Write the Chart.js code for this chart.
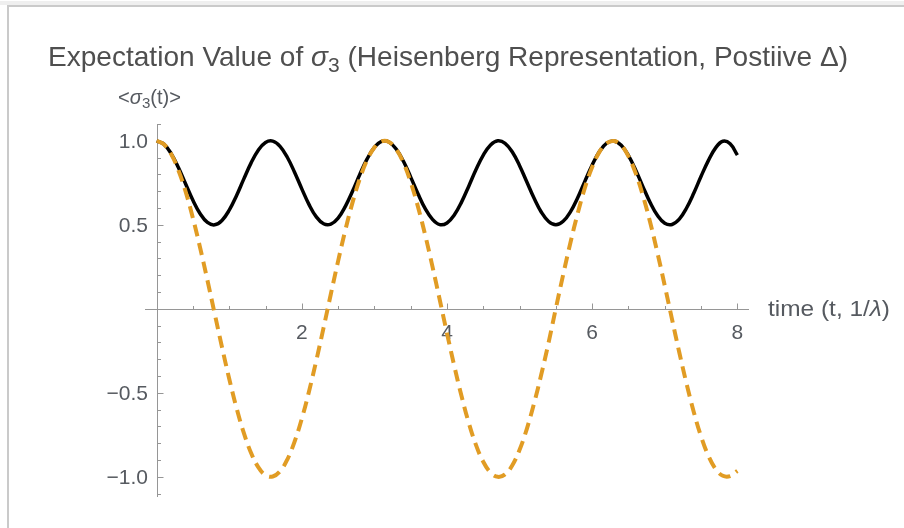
<!DOCTYPE html>
<html>
<head>
<meta charset="utf-8">
<script src="https://cdn.jsdelivr.net/npm/chart.js@4.4.0/dist/chart.umd.min.js"></script>
<style>
  html, body { margin: 0; padding: 0; background: #ffffff; }
  #wrap { position: relative; width: 904px; height: 528px; }
  canvas { display: block; }
</style>
</head>
<body>
<div id="wrap"><canvas id="chart" width="904" height="528"></canvas></div>
<script>
// time samples t (units of 1/λ)
const timeValues = [
  0.0, 0.1, 0.2, 0.3, 0.4, 0.5, 0.6, 0.7, 0.8, 0.9,
  1.0, 1.1, 1.2, 1.3, 1.4, 1.5, 1.6, 1.7, 1.8, 1.9,
  2.0, 2.1, 2.2, 2.3, 2.4, 2.5, 2.6, 2.7, 2.8, 2.9,
  3.0, 3.1, 3.2, 3.3, 3.4, 3.5, 3.6, 3.7, 3.8, 3.9,
  4.0, 4.1, 4.2, 4.3, 4.4, 4.5, 4.6, 4.7, 4.8, 4.9,
  5.0, 5.1, 5.2, 5.3, 5.4, 5.5, 5.6, 5.7, 5.8, 5.9,
  6.0, 6.1, 6.2, 6.3, 6.4, 6.5, 6.6, 6.7, 6.8, 6.9,
  7.0, 7.1, 7.2, 7.3, 7.4, 7.5, 7.6, 7.7, 7.8, 7.9,
  8.0
];

// <σ3(t)>, dashed orange curve (full swing between +1 and −1)
const sigma3Dashed = [
  1.000, 0.980, 0.921, 0.825, 0.697, 0.540, 0.362, 0.170, -0.029, -0.227,
  -0.416, -0.589, -0.737, -0.857, -0.942, -0.990, -0.998, -0.967, -0.897, -0.791,
  -0.654, -0.490, -0.307, -0.112, 0.088, 0.284, 0.469, 0.635, 0.776, 0.886,
  0.960, 0.997, 0.993, 0.950, 0.869, 0.754, 0.608, 0.439, 0.251, 0.054,
  -0.146, -0.339, -0.519, -0.679, -0.811, -0.911, -0.975, -1.000, -0.985, -0.931,
  -0.839, -0.714, -0.562, -0.388, -0.200, 0.004, 0.203, 0.393, 0.568, 0.721,
  0.844, 0.934, 0.986, 0.999, 0.973, 0.907, 0.806, 0.672, 0.512, 0.331,
  0.137, -0.063, -0.260, -0.446, -0.615, -0.760, -0.874, -0.953, -0.994, -0.996,
  -0.965
];

// <σ3(t)>, solid black curve (oscillates between 1 and 0.5)
const sigma3Solid = [
  1.000, 0.980, 0.924, 0.841, 0.743, 0.646, 0.566, 0.514, 0.500, 0.526,
  0.587, 0.673, 0.772, 0.867, 0.944, 0.990, 0.998, 0.967, 0.902, 0.813,
  0.714, 0.620, 0.547, 0.506, 0.504, 0.540, 0.610, 0.701, 0.801, 0.892,
  0.961, 0.997, 0.993, 0.951, 0.878, 0.784, 0.685, 0.596, 0.532, 0.501,
  0.511, 0.558, 0.635, 0.730, 0.829, 0.915, 0.975, 1.000, 0.985, 0.933,
  0.852, 0.755, 0.658, 0.575, 0.520, 0.500, 0.521, 0.577, 0.661, 0.760,
  0.856, 0.936, 0.986, 0.999, 0.973, 0.912, 0.825, 0.726, 0.631, 0.555,
  0.509, 0.502, 0.534, 0.600, 0.689, 0.789, 0.882, 0.958, 0.997, 0.982,
  0.915
];

// axis ticks
const xMajorTicks = [2, 4, 6, 8];
const xTickLabels = ['2', '4', '6', '8'];
const xMinorTicks = [0.5, 1, 1.5, 2.5, 3, 3.5, 4.5, 5, 5.5, 6.5, 7, 7.5];
const yMajorTicks = [1, 0.5, -0.5, -1];
const yTickLabels = ['1.0', '0.5', '\u22120.5', '\u22121.0'];
const yMinorTicks = [1.1, 0.9, 0.8, 0.7, 0.6, 0.4, 0.3, 0.2, 0.1,
                     -0.1, -0.2, -0.3, -0.4, -0.6, -0.7, -0.8, -0.9, -1.1];

const FAMILY = '"Liberation Sans", Arial, Helvetica, sans-serif';
const AXIS_COLOR = '#969696';
const LABEL_COLOR = '#565a60';

function partFont(p, size) {
  const s = p.sub ? Math.round(size * 0.74) : size;
  return (p.italic ? 'italic ' : '') + s + 'px ' + FAMILY;
}

// draws a run of text pieces (plain / italic / subscript), optionally fitted to a width
function drawRich(ctx, parts, x, baseline, size, color, targetWidth) {
  let natural = 0;
  for (const p of parts) {
    ctx.font = partFont(p, size);
    natural += ctx.measureText(p.text).width;
  }
  const sx = targetWidth ? targetWidth / natural : 1;
  ctx.save();
  ctx.translate(x, baseline);
  ctx.scale(sx, 1);
  ctx.fillStyle = color;
  ctx.textAlign = 'left';
  ctx.textBaseline = 'alphabetic';
  let cx = 0;
  for (const p of parts) {
    ctx.font = partFont(p, size);
    ctx.fillText(p.text, cx, p.sub ? size * 0.2 : 0);
    cx += ctx.measureText(p.text).width;
  }
  ctx.restore();
}

const pageFrame = {
  id: 'pageFrame',
  beforeDraw(chart) {
    const ctx = chart.ctx;
    ctx.save();
    ctx.fillStyle = '#ffffff';
    ctx.fillRect(0, 0, chart.width, chart.height);
    ctx.fillStyle = '#efefef';
    ctx.fillRect(0, 1, chart.width, 4);
    ctx.fillStyle = '#cacaca';
    ctx.fillRect(7, 5, chart.width - 7, 2);
    ctx.fillRect(7, 5, 2, chart.height - 5);
    ctx.restore();
  }
};

// axes crossing at the origin, with inward ticks
const originAxes = {
  id: 'originAxes',
  beforeDatasetsDraw(chart) {
    const ctx = chart.ctx;
    const xs = chart.scales.x, ys = chart.scales.y;
    const x0 = Math.round(xs.getPixelForValue(0)) + 0.5;
    const y0 = Math.round(ys.getPixelForValue(0)) + 0.5;
    const area = chart.chartArea;
    ctx.save();
    ctx.strokeStyle = AXIS_COLOR;
    ctx.lineWidth = 1;
    ctx.beginPath();
    ctx.moveTo(area.left, y0); ctx.lineTo(area.right, y0);
    ctx.moveTo(x0, area.top); ctx.lineTo(x0, area.bottom);
    for (const v of xMajorTicks) {
      const px = Math.round(xs.getPixelForValue(v)) + 0.5;
      ctx.moveTo(px, y0); ctx.lineTo(px, y0 - 6);
    }
    for (const v of xMinorTicks) {
      const px = Math.round(xs.getPixelForValue(v)) + 0.5;
      ctx.moveTo(px, y0); ctx.lineTo(px, y0 - 3.5);
    }
    for (const v of yMajorTicks) {
      const py = Math.round(ys.getPixelForValue(v)) + 0.5;
      ctx.moveTo(x0, py); ctx.lineTo(x0 + 6, py);
    }
    for (const v of yMinorTicks) {
      const py = Math.round(ys.getPixelForValue(v)) + 0.5;
      ctx.moveTo(x0, py); ctx.lineTo(x0 + 3.5, py);
    }
    ctx.stroke();

    ctx.fillStyle = LABEL_COLOR;
    ctx.font = '21px ' + FAMILY;
    ctx.textBaseline = 'alphabetic';
    ctx.textAlign = 'center';
    xMajorTicks.forEach((v, i) => {
      ctx.fillText(xTickLabels[i], xs.getPixelForValue(v), y0 + 29.5);
    });
    ctx.textAlign = 'right';
    yMajorTicks.forEach((v, i) => {
      ctx.fillText(yTickLabels[i], x0 - 9.5, ys.getPixelForValue(v) + 7.5);
    });
    ctx.restore();
  },
  afterDraw(chart) {
    const ctx = chart.ctx;
    drawRich(ctx, [
      { text: 'Expectation Value of ' },
      { text: '\u03C3', italic: true },
      { text: '3', sub: true },
      { text: ' (Heisenberg Representation, Postiive \u0394)' }
    ], 48, 66, 28, '#4f4f4f', 800);
    drawRich(ctx, [
      { text: '<' },
      { text: '\u03C3', italic: true },
      { text: '3', sub: true },
      { text: '(t)>' }
    ], 118, 104, 20, LABEL_COLOR, 63);
    drawRich(ctx, [
      { text: 'time (t, 1/' },
      { text: '\u03BB', italic: true },
      { text: ')' }
    ], 768, 316, 22, LABEL_COLOR, 122);
  }
};

const toPoints = (arr) => timeValues.map((t, i) => ({ x: t, y: arr[i] }));

new Chart(document.getElementById('chart'), {
  type: 'line',
  data: {
    datasets: [
      {
        label: '<σ3(t)> dashed',
        data: toPoints(sigma3Dashed),
        borderColor: '#E19C24',
        borderWidth: 4,
        borderDash: [12, 7],
        borderCapStyle: 'butt',
        tension: 0.4,
        pointRadius: 0,
        fill: false,
        order: 0
      },
      {
        label: '<σ3(t)> solid',
        data: toPoints(sigma3Solid),
        borderColor: '#000000',
        borderWidth: 3.5,
        tension: 0.4,
        pointRadius: 0,
        fill: false,
        order: 1
      }
    ]
  },
  options: {
    responsive: false,
    animation: false,
    devicePixelRatio: 1,
    layout: { padding: { left: 145, right: 155, top: 124, bottom: 31 } },
    plugins: { legend: { display: false }, tooltip: { enabled: false }, title: { display: false } },
    scales: {
      x: { type: 'linear', min: -0.16, max: 8.16, display: false },
      y: { type: 'linear', min: -1.12, max: 1.10, display: false }
    }
  },
  plugins: [pageFrame, originAxes]
});
</script>
</body>
</html>
